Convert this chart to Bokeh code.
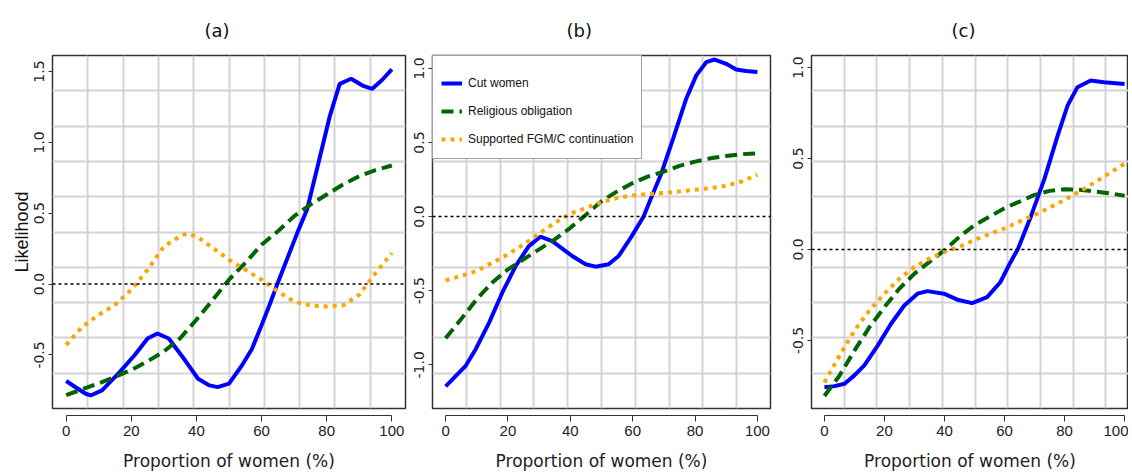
from bokeh.plotting import figure
from bokeh.layouts import row
from bokeh.models import LinearAxis, FixedTicker, Span, PrintfTickFormatter, Range1d, Grid
from bokeh.embed import file_html
from bokeh.resources import INLINE

# ---------------- data ----------------
panel_titles = ["(a)", "(b)", "(c)"]
series_names = ["Cut women", "Religious obligation", "Supported FGM/C continuation"]
x_ticks = [0, 20, 40, 60, 80, 100]
x_label = "Proportion of women (%)"
y_label = "Likelihood"

a_y_ticks = [-0.5, 0.0, 0.5, 1.0, 1.5]
b_y_ticks = [-1.0, -0.5, 0.0, 0.5, 1.0]
c_y_ticks = [-0.5, 0.0, 0.5, 1.0]

# panel (a)
a_cut_x = [0, 3, 6, 7.5, 11, 16, 21, 25, 28, 31.5, 36.5, 40.5, 44, 46.5, 50, 54, 57, 60, 62.5, 65,
           71, 74, 77.5, 81, 84, 87.5, 91, 94, 97, 100]
a_cut_y = [-0.684, -0.730, -0.774, -0.786, -0.750, -0.632, -0.502, -0.384, -0.349, -0.384, -0.538, -0.668,
           -0.715, -0.727, -0.703, -0.573, -0.460, -0.290, -0.144, 0.010, 0.363, 0.528, 0.858, 1.189, 1.413,
           1.449, 1.401, 1.378, 1.440, 1.515]
a_rel_x = [0, 5, 10, 15, 20, 25, 30, 35, 40, 45, 50, 55, 60, 65, 70, 75, 80, 85, 90, 95, 100]
a_rel_y = [-0.783, -0.742, -0.700, -0.655, -0.606, -0.545, -0.476, -0.382, -0.252, -0.111, 0.031, 0.149, 0.278,
           0.373, 0.479, 0.561, 0.632, 0.703, 0.762, 0.804, 0.837]
a_sup_x = [0, 5, 10, 15, 20, 25, 30, 35, 37, 40, 45, 50, 55, 60, 65, 70, 75, 80, 85, 90, 95, 100]
a_sup_y = [-0.429, -0.300, -0.217, -0.146, -0.040, 0.101, 0.265, 0.337, 0.356, 0.337, 0.255, 0.172, 0.101, 0.031,
           -0.052, -0.123, -0.151, -0.158, -0.151, -0.075, 0.078, 0.219]

# panel (b)
b_cut_x = [0, 6.5, 9.7, 14, 18.2, 22.5, 26.7, 30.4, 34.2, 40.6, 44.9, 48.1, 52.3, 55.5, 59.7, 63.5, 66.1, 69,
           73, 77.2, 80.4, 83.6, 86.3, 90, 93.2, 96.4, 100]
b_cut_y = [-1.146, -1.005, -0.893, -0.714, -0.512, -0.333, -0.199, -0.136, -0.166, -0.266, -0.322, -0.338,
           -0.322, -0.266, -0.132, 0.000, 0.136, 0.280, 0.528, 0.797, 0.953, 1.042, 1.060, 1.031, 0.993, 0.982,
           0.975]
b_rel_x = [0, 5, 10, 15, 20, 25, 30, 35, 40, 45, 50, 55, 60, 65, 70, 75, 80, 85, 90, 95, 100]
b_rel_y = [-0.821, -0.691, -0.557, -0.445, -0.356, -0.289, -0.221, -0.154, -0.076, 0.013, 0.103, 0.170, 0.226,
           0.271, 0.304, 0.342, 0.371, 0.394, 0.409, 0.421, 0.427]
b_sup_x = [0, 5, 10, 15, 20, 25, 30, 35, 40, 45, 50, 55, 60, 65, 70, 75, 80, 85, 90, 95, 100]
b_sup_y = [-0.430, -0.400, -0.367, -0.311, -0.255, -0.188, -0.114, -0.043, 0.020, 0.058, 0.098, 0.125, 0.143,
           0.152, 0.159, 0.170, 0.181, 0.192, 0.208, 0.237, 0.282]

# panel (c)
c_cut_x = [0, 3.4, 6.7, 10, 13.3, 17.8, 22.2, 26.6, 31, 34.3, 39.8, 44.3, 49.2, 54.2, 58.6, 62, 64.5, 68.9,
           73.3, 77.7, 81, 84.3, 88.7, 93.1, 100]
c_cut_y = [-0.757, -0.751, -0.738, -0.692, -0.637, -0.527, -0.408, -0.308, -0.243, -0.229, -0.243, -0.276,
           -0.295, -0.262, -0.180, -0.070, 0.004, 0.187, 0.388, 0.626, 0.791, 0.892, 0.929, 0.919, 0.910]
c_rel_x = [0, 5, 10, 15, 20, 25, 30, 35, 40, 45, 50, 55, 60, 65, 70, 75, 80, 85, 90, 95, 100]
c_rel_y = [-0.805, -0.694, -0.556, -0.427, -0.317, -0.215, -0.133, -0.068, -0.004, 0.070, 0.134, 0.180, 0.227,
           0.263, 0.300, 0.322, 0.331, 0.328, 0.319, 0.309, 0.295]
c_sup_x = [0, 5, 10, 15, 20, 25, 30, 35, 40, 45, 50, 55, 60, 65, 70, 75, 80, 85, 90, 95, 100]
c_sup_y = [-0.731, -0.584, -0.446, -0.335, -0.243, -0.160, -0.096, -0.050, -0.013, 0.015, 0.052, 0.085, 0.116,
           0.153, 0.190, 0.230, 0.273, 0.319, 0.368, 0.420, 0.471]

# ---------------- style ----------------
BLUE, GREEN, ORANGE = "#0000FF", "#006400", "#FFA500"
NARROW = "Liberation Sans"
WIDE = "DejaVu Sans"
AXC = "#333333"
FIG_H = 475


def make_panel(title, title_off, xr, x_box, yr, y_ticks, cut, rel, sup, width, ml, mr, ylab=None, legend=False):
    p = figure(width=width, height=FIG_H, x_range=Range1d(*xr), y_range=Range1d(*yr),
               x_axis_location=None, y_axis_location=None, output_backend="svg", toolbar_location=None,
               min_border_left=ml, min_border_right=mr, min_border_top=55, min_border_bottom=67,
               background_fill_color="white", border_fill_color="white")
    p.grid.visible = False
    p.outline_line_color = AXC
    p.outline_line_width = 1.5
    p.title.text = title
    p.title.text_font = WIDE
    p.title.text_font_size = "18px"
    p.title.text_font_style = "normal"
    p.title.text_color = "#111111"
    p.title.align = "left"
    p.title.offset = title_off
    p.title.standoff = 29

    # grid: the box divided into ten equal parts
    gx = [x_box[0] + (x_box[1] - x_box[0]) * i / 10 for i in range(1, 10)]
    gy = [yr[0] + (yr[1] - yr[0]) * i / 10 for i in range(1, 10)]
    for dim, ticks in ((0, gx), (1, gy)):
        g = Grid(dimension=dim, ticker=FixedTicker(ticks=ticks), grid_line_color="#d3d3d3", grid_line_width=2)
        p.add_layout(g)

    # x axes: an invisible spacer so the axis line sits below the box (R style)
    sp = LinearAxis(ticker=FixedTicker(ticks=[50]), axis_line_color=None, major_tick_line_color=None,
                    minor_tick_line_color=None, major_tick_out=7, major_tick_in=0,
                    major_label_text_alpha=0, major_label_text_font_size="1px", major_label_standoff=0)
    p.add_layout(sp, "below")
    xa = LinearAxis(ticker=FixedTicker(ticks=x_ticks), bounds=(0, 100), axis_line_color=AXC, axis_line_width=1.2,
                    major_tick_out=6, major_tick_in=0, major_tick_line_color=AXC, minor_tick_line_color=None,
                    major_label_text_font=NARROW, major_label_text_font_size="15px",
                    major_label_text_color="#222222", major_label_standoff=4,
                    axis_label=x_label, axis_label_text_font=WIDE, axis_label_text_font_size="17px",
                    axis_label_text_font_style="normal", axis_label_standoff=12, axis_label_text_color="#222222")
    p.add_layout(xa, "below")

    ya = LinearAxis(ticker=FixedTicker(ticks=y_ticks), formatter=PrintfTickFormatter(format="%.1f"),
                    major_label_orientation="vertical", axis_line_color=None, major_tick_out=4, major_tick_in=0,
                    major_tick_line_color=AXC, minor_tick_line_color=None,
                    major_label_text_font=WIDE, major_label_text_font_size="14px",
                    major_label_text_color="#222222", major_label_standoff=4)
    if ylab:
        ya.axis_label = ylab
        ya.axis_label_text_font = NARROW
        ya.axis_label_text_font_size = "18px"
        ya.axis_label_text_font_style = "normal"
        ya.axis_label_standoff = 0
        ya.axis_label_text_color = "#111111"
    p.add_layout(ya, "left")

    if legend:
        kw = [dict(legend_label=n) for n in series_names]
    else:
        kw = [{}, {}, {}]
    p.line(cut[0], cut[1], line_color=BLUE, line_width=4, **kw[0])
    p.line(rel[0], rel[1], line_color=GREEN, line_width=4, line_dash="12 6", **kw[1])
    p.line(sup[0], sup[1], line_color=ORANGE, line_width=4, line_dash="4 5", **kw[2])

    p.add_layout(Span(location=0, dimension="width", line_color="black", line_width=1.5, line_dash="3 3"))

    if legend:
        lg = p.legend[0]
        lg.location = "top_left"
        lg.margin = 0
        lg.padding = 8
        lg.title = " "
        lg.title_text_font_size = "6px"
        lg.title_standoff = 2
        lg.spacing = 6
        lg.label_height = 22
        lg.glyph_height = 22
        lg.glyph_width = 21
        lg.label_standoff = 6
        lg.label_text_font = NARROW
        lg.label_text_font_size = "12px"
        lg.label_text_color = "#111111"
        lg.border_line_color = "#444444"
        lg.border_line_width = 1.5
        lg.background_fill_alpha = 1.0
    return p


pa = make_panel(panel_titles[0], 152, (-4.2, 104.2), (-4.2, 104.2), (-0.878, 1.613), a_y_ticks,
                (a_cut_x, a_cut_y), (a_rel_x, a_rel_y), (a_sup_x, a_sup_y), 410, 52, 5, ylab=y_label)
pb = make_panel(panel_titles[1], 134, (-4.2, 104.2), (-4.2, 104.2), (-1.295, 1.087), b_y_ticks,
                (b_cut_x, b_cut_y), (b_rel_x, b_rel_y), (b_sup_x, b_sup_y), 380, 22, 20, legend=True)
pc = make_panel(panel_titles[2], 140, (-4.3, 101.3), (-4.3, 104.7), (-0.874, 1.066), c_y_ticks,
                (c_cut_x, c_cut_y), (c_rel_x, c_rel_y), (c_sup_x, c_sup_y), 338, 19, 0)

layout = row(pa, pb, pc)
open("out.html", "w").write(file_html(layout, INLINE))
